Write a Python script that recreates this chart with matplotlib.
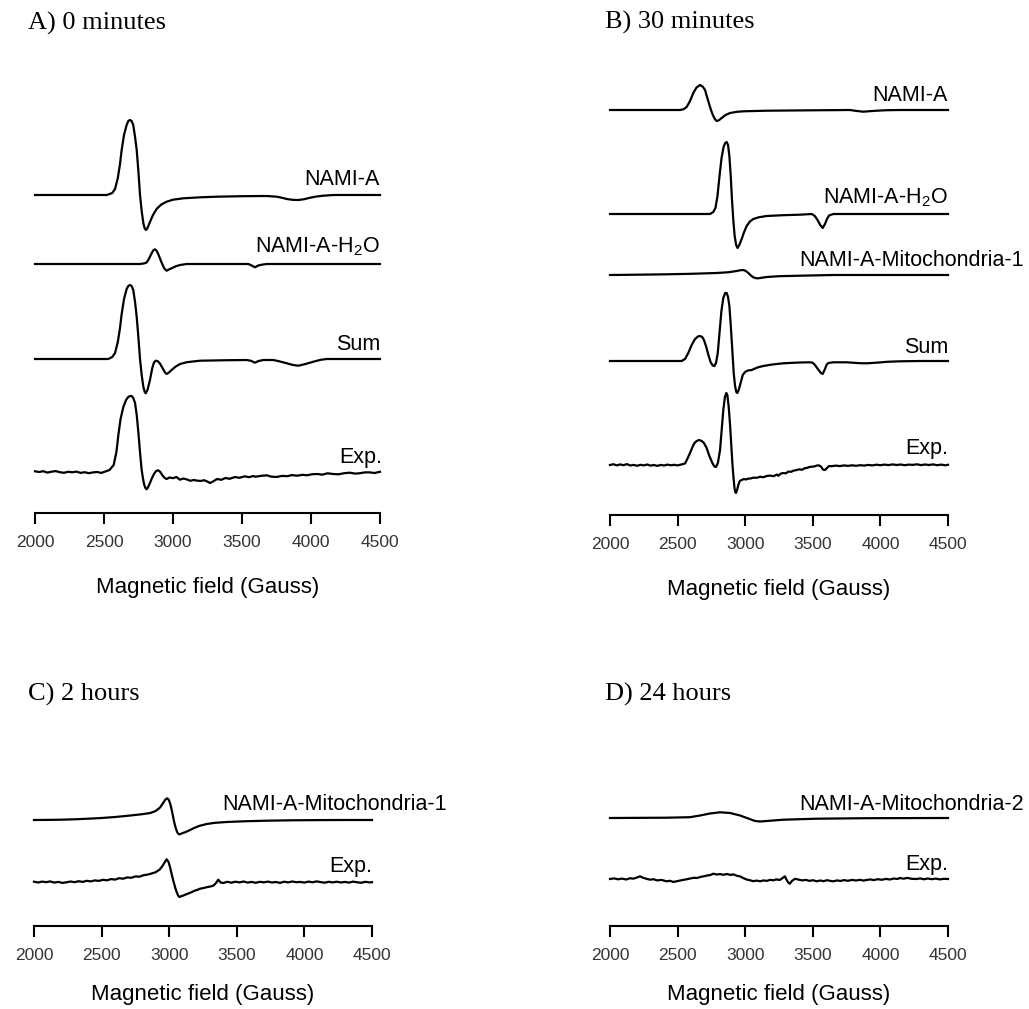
import matplotlib.pyplot as plt

plt.rcParams['font.family'] = ['Liberation Sans', 'DejaVu Sans']
plt.rcParams['mathtext.fontset'] = 'custom'
plt.rcParams['mathtext.rm'] = 'Liberation Sans'

# ---- spectra (field in Gauss, signal in arbitrary units) ----
FIELD_TICKS = [2000, 2500, 3000, 3500, 4000, 4500]

# A) 0 minutes
a_nami_field = [2000, 2400, 2520, 2560, 2580, 2600, 2615, 2628, 2645, 2664, 2676, 2688, 2700, 2712,
                2725, 2737, 2749, 2761, 2773, 2785, 2795, 2805, 2815, 2833, 2855, 2881, 2915, 2954,
                3000, 3075, 3200, 3317, 3500, 3680, 3752, 3790, 3825, 3865, 3909, 3950, 3994, 4040,
                4090, 4163, 4500]
a_nami_signal = [0, 0, 0, 2, 6, 17, 30, 45, 60, 70, 74, 75, 74, 70,
                 58, 45, 24, 0, -16, -28, -33.5, -35, -33, -27, -20, -14, -9.5, -6.7,
                 -4.7, -3.3, -2.3, -1.7, -1.2, -1, -1.7, -2.8, -4, -4.8, -5, -4.2, -2.7, -1.5,
                 -0.7, 0, 0]

a_h2o_field = [2000, 2761, 2790, 2809, 2825, 2845, 2858, 2869, 2880, 2893, 2907, 2922, 2937, 2954,
               2970, 2990, 3020, 3051, 3099, 3546, 3570, 3594, 3618, 3643, 3680, 4500]
a_h2o_signal = [0, 0, 0.6, 1.5, 5, 10.7, 13.8, 14.7, 13.5, 10, 5, 0, -4.5, -6.7,
                -5.5, -4.3, -2.3, -1, 0, 0, -1.5, -3.3, -1.5, -0.7, 0, 0]

a_sum_field = [2000, 2531, 2560, 2580, 2600, 2615, 2628, 2645, 2664, 2676, 2688, 2700, 2712, 2725,
               2737, 2749, 2761, 2773, 2785, 2795, 2802, 2815, 2833, 2850, 2862, 2875, 2890, 2905,
               2924, 2942, 2954, 2968, 2990, 3020, 3051, 3100, 3196, 3400, 3534, 3565, 3594, 3620,
               3655, 3727, 3770, 3825, 3870, 3909, 3960, 4018, 4070, 4114, 4500]
a_sum_signal = [0, 0, 2, 6, 17, 30, 45, 60, 70, 73, 74, 73, 69, 57,
                42, 22, 0, -16, -27.7, -33, -34.3, -31, -21, -9, -3.5, -1.7, -2.2, -4.5,
                -9, -13.5, -15, -13.8, -11, -7.5, -5, -3.2, -1.7, -1.2, -1, -1.8, -3.7, -2,
                -1, -1, -2.3, -4.3, -6, -6.7, -5, -2.7, -0.8, 0, 0]

a_exp_field = [2000, 2030, 2060, 2090, 2120, 2150, 2180, 2210, 2240, 2270, 2300, 2330, 2360, 2390,
               2420, 2450, 2480, 2510, 2540, 2570, 2590, 2605, 2620, 2640, 2660, 2675, 2690, 2700,
               2712, 2725, 2738, 2750, 2762, 2773, 2782, 2790, 2800, 2809, 2820, 2833, 2848, 2862,
               2878, 2893, 2908, 2924, 2940, 2954, 2975, 3000, 3025, 3050, 3075, 3100, 3125, 3150,
               3175, 3200, 3225, 3250, 3268, 3290, 3320, 3350, 3380, 3410, 3450, 3480, 3520, 3550,
               3580, 3600, 3640, 3680, 3710, 3750, 3790, 3830, 3860, 3900, 3940, 3970, 4010, 4050,
               4080, 4120, 4160, 4200, 4240, 4280, 4320, 4350, 4390, 4420, 4460, 4500]
a_exp_signal = [0.7, 0.0, 0.8, -0.6, 0.3, 0.9, -0.2, -0.8, 0.2, -0.3, 0.4, -0.9, -0.2, -1.2,
                -0.4, 0.0, -0.9, 0.5, 2.0, 7.0, 20, 38, 53, 65, 72, 75, 76, 76,
                74, 69, 56, 38, 18, 2, -6, -12, -16, -17.3, -15, -11, -6, -2,
                1, 1.7, 0, -3.5, -6, -7, -5.5, -6.2, -5, -7.7, -6.5, -7.4, -8.8, -8,
                -8.6, -9, -8.2, -9.6, -11, -9.5, -7, -7.8, -6, -6.8, -5, -5.8, -4.3, -5.2,
                -4.1, -4.7, -3.8, -3.3, -4.6, -5, -3.9, -4.2, -3.1, -3.7, -2.8, -3.3, -2.2, -2,
                -2.7, -1.3, -2.0, -2.3, -1.2, -0.7, -1.6, -1.3, -0.4, -0.3, -1.0, 0.2]

# B) 30 minutes
b_nami_field = [2000, 2518, 2545, 2567, 2592, 2616, 2640, 2666, 2685, 2703, 2722, 2740, 2752, 2764,
                2778, 2789, 2805, 2826, 2855, 2888, 2940, 2986, 3159, 3500, 3775, 3820, 3874, 3920,
                3972, 4050, 4145, 4500]
b_nami_signal = [0, 0, 0.8, 3, 9, 17, 22.5, 25, 23.5, 20, 11, 3, -2, -6,
                 -9.5, -11, -10.3, -8, -5, -3, -1.8, -1.3, -0.7, -0.3, 0, -0.9, -1.7, -1.2,
                 -0.7, -0.2, 0, 0]

b_h2o_field = [2000, 2740, 2764, 2780, 2795, 2810, 2825, 2840, 2852, 2863, 2873, 2883, 2893, 2902,
               2912, 2922, 2933, 2944, 2956, 2974, 2992, 3011, 3035, 3060, 3100, 3159, 3280, 3405,
               3492, 3515, 3535, 3555, 3573, 3590, 3605, 3620, 3652, 4500]
b_h2o_signal = [0, 0, 2, 6, 18, 38, 56, 67, 71, 72, 69, 58, 38, 15,
                -6, -22, -31, -34, -31, -25, -18, -12, -7.5, -5, -3.3, -2, -1.2, -0.7,
                0, -2, -6, -11, -14, -10, -5, -1.5, 0, 0]

b_mito_field = [2000, 2200, 2419, 2600, 2789, 2880, 2937, 2965, 2986, 3005, 3023, 3042, 3060, 3080,
                3097, 3125, 3159, 3250, 3405, 3652, 4500]
b_mito_signal = [0, 0.3, 0.7, 1.2, 2, 2.8, 4, 4.8, 5, 4, 2, -0.5, -2.3, -3.2,
                 -3.3, -2.7, -2, -1.2, -0.7, 0, 0]

b_sum_field = [2000, 2530, 2555, 2579, 2604, 2629, 2650, 2666, 2682, 2695, 2712, 2730, 2745, 2760,
               2772, 2784, 2797, 2810, 2824, 2838, 2852, 2863, 2873, 2883, 2893, 2905, 2915, 2925,
               2934, 2942, 2952, 2966, 2982, 2999, 3020, 3048, 3090, 3134, 3200, 3282, 3400, 3480,
               3500, 3516, 3540, 3560, 3573, 3590, 3603, 3615, 3652, 3750, 3850, 3898, 3970, 4050,
               4145, 4300, 4500]
b_sum_signal = [0, 0, 2, 8, 16, 22, 24.5, 25, 24, 21, 14, 5, -1.5, -4.5,
                -5, -2, 8, 28, 50, 63, 68, 68, 64, 55, 36, 10, -12, -25,
                -31, -32, -29, -22, -14, -11, -9.5, -9, -6.5, -5, -3.5, -2.3, -1.5, -1.3,
                -1.8, -4, -8.5, -12, -13, -8, -3.5, -2, -1.3, -1.3, -2.2, -2.3, -1.7, -0.8,
                -0.3, 0, 0]

b_exp_field = [2000, 2025, 2050, 2075, 2100, 2125, 2150, 2175, 2200, 2225, 2250, 2275, 2300, 2325,
               2350, 2375, 2400, 2425, 2450, 2475, 2500, 2530, 2555, 2575, 2592, 2610, 2625, 2641,
               2660, 2678, 2695, 2715, 2735, 2757, 2772, 2784, 2798, 2814, 2826, 2838, 2850, 2860,
               2868, 2878, 2888, 2897, 2905, 2913, 2920, 2926, 2932, 2940, 2949, 2960, 2974, 2990,
               3005, 3023, 3040, 3060, 3085, 3110, 3135, 3159, 3185, 3210, 3235, 3245, 3265, 3282,
               3300, 3320, 3340, 3356, 3375, 3400, 3420, 3440, 3455, 3475, 3500, 3516, 3530, 3545,
               3560, 3575, 3590, 3605, 3620, 3640, 3670, 3700, 3730, 3760, 3790, 3820, 3850, 3880,
               3910, 3940, 3970, 4000, 4030, 4060, 4090, 4120, 4150, 4180, 4210, 4240, 4270, 4300,
               4330, 4360, 4390, 4420, 4450, 4480, 4500]
b_exp_signal = [0, 0.8, -0.4, 0.6, -0.2, 0.9, -0.5, 0.1, -0.8, 0.2, -0.4, 0.5, -0.6, 0,
                -0.9, 0.1, -0.5, 0.4, -0.3, 0.2, -0.4, 0.6, 1.5, 7, 12, 18, 22, 24,
                25, 24, 22, 17, 9, 2, -1.5, -2, 2, 15, 35, 55, 68, 72,
                70, 58, 40, 20, 2, -12, -22, -27, -28, -25, -20, -16, -15, -14,
                -14.5, -13.6, -13.5, -12.7, -12.8, -11.8, -12.2, -11, -10.6, -11.2, -9.5, -10.8, -8.5, -8,
                -8.4, -6.5, -6.8, -5.7, -5.2, -4.3, -4.8, -3.2, -3, -2, -1.6, -1.3, -0.5, -0.4,
                -1.5, -4.5, -5, -3, -1, -1.2, -0.6, -1.1, -0.4, -0.9, -0.3, -0.8, -0.2, -0.6,
                0.1, -0.4, 0.3, -0.2, 0.4, -0.1, 0.6, 0, 0.5, -0.2, 0.4, 0.1, 0.7, -0.1,
                0.5, 0, 0.6, -0.2, 0.4, -0.3, 0.2]

# C) 2 hours
c_mito_field = [2000, 2100, 2200, 2300, 2400, 2500, 2600, 2700, 2800, 2860, 2900, 2932, 2955, 2972,
                2985, 2998, 3010, 3022, 3035, 3048, 3060, 3072, 3085, 3100, 3117, 3150, 3179, 3220,
                3277, 3340, 3425, 3550, 3721, 3900, 4100, 4300, 4500]
c_mito_signal = [0, 0.1, 0.3, 0.7, 1.3, 2.0, 3.0, 4.3, 5.8, 7.0, 9.0, 12.5, 17, 20.5,
                 21.7, 20, 15, 8, -1, -8, -12.5, -14.3, -14, -13, -12.3, -10.3, -8.3, -6,
                 -4, -2.8, -2, -1.3, -0.7, -0.3, -0.1, 0, 0]

c_exp_field = [2000, 2030, 2060, 2090, 2120, 2150, 2180, 2210, 2240, 2270, 2300, 2330, 2360, 2390,
               2420, 2450, 2480, 2510, 2540, 2570, 2600, 2630, 2660, 2690, 2720, 2750, 2780, 2810,
               2840, 2870, 2900, 2930, 2950, 2968, 2981, 2995, 3006, 3018, 3031, 3045, 3055, 3066,
               3075, 3090, 3105, 3120, 3141, 3165, 3190, 3210, 3228, 3255, 3280, 3305, 3326, 3345,
               3363, 3380, 3400, 3430, 3460, 3490, 3520, 3550, 3580, 3610, 3640, 3670, 3700, 3730,
               3760, 3790, 3820, 3850, 3880, 3910, 3940, 3970, 4000, 4030, 4060, 4090, 4120, 4150,
               4180, 4210, 4240, 4270, 4300, 4330, 4360, 4390, 4420, 4450, 4480, 4500]
c_exp_signal = [0.3, -0.5, 0.4, -0.2, 0.6, -0.6, 0.1, -0.9, -0.3, 0.5, -0.2, 0.8, 0.1, 1.2,
                0.6, 1.6, 1.1, 2.2, 1.7, 2.9, 2.4, 3.8, 3.3, 4.6, 4.2, 5.6, 5.3, 6.8,
                7.4, 8.5, 9.8, 12.5, 16, 20, 22.7, 20, 15, 8, 1, -6, -10, -13.5,
                -15, -14.2, -13.5, -12.6, -11.5, -10.2, -8.6, -7.8, -6.7, -6, -5.1, -4.5, -3.7, -1.2,
                2.3, -0.5, -1, 0.2, -0.7, 0.3, -0.4, 0.5, -0.6, 0.1, -0.8, 0.2, -0.3, 0.4,
                -0.5, 0, -0.9, 0.3, -0.4, 0.5, -0.2, 0.1, -0.6, 0.4, -0.3, 0.6, -0.1, -0.7,
                0.2, -0.4, 0.3, -0.5, 0.1, -0.6, 0.4, -0.3, -0.8, 0.2, -0.4, -0.2]

# D) 24 hours
d_mito_field = [2000, 2419, 2592, 2666, 2740, 2814, 2888, 2962, 3023, 3073, 3110, 3159, 3282, 3529,
                3898, 4500]
d_mito_signal = [0, 0.3, 0.8, 2.5, 4.5, 5.7, 5, 2.5, -0.5, -3, -3.5, -3, -1.7, -0.7,
                 -0.2, 0]

d_exp_field = [2000, 2030, 2060, 2090, 2120, 2150, 2172, 2200, 2222, 2245, 2270, 2296, 2320, 2350,
               2380, 2419, 2445, 2468, 2495, 2520, 2545, 2567, 2590, 2620, 2645, 2666, 2690, 2715,
               2740, 2764, 2790, 2814, 2840, 2865, 2890, 2912, 2937, 2962, 2985, 3010, 3036, 3060,
               3085, 3110, 3135, 3160, 3185, 3208, 3230, 3255, 3275, 3294, 3305, 3318, 3331, 3345,
               3368, 3395, 3420, 3450, 3475, 3500, 3529, 3555, 3580, 3605, 3630, 3652, 3680, 3705,
               3730, 3760, 3790, 3820, 3850, 3875, 3898, 3925, 3950, 3980, 4010, 4040, 4070, 4100,
               4125, 4145, 4170, 4200, 4230, 4268, 4295, 4320, 4350, 4380, 4410, 4440, 4470, 4500]
d_exp_signal = [0, 0.6, -0.3, 0.4, -0.5, 0.8, 0.3, 1.5, 2.7, 1.2, 0.2, -0.7, -0.2, -1.4,
                -0.9, -2.3, -1.8, -3, -2.2, -1.5, -0.8, -0.3, 0.4, 1.2, 1.0, 2, 2.6, 3.4,
                3.9, 5.3, 4.5, 4.9, 4.2, 5.0, 4.1, 4.6, 3.3, 2.6, 1.0, -0.5, -1.3, -2.2,
                -1.6, -2.3, -1.4, -1.9, -0.8, -1.3, -0.4, -1.0, 0.8, 2.7, -0.5, -3.5, -4.7, -2,
                0.2, -0.6, -1.4, -0.9, -1.9, -1.2, -2.3, -1.5, -2.2, -1.2, -1.9, -2.3, -1.4, -2,
                -1.1, -1.8, -0.9, -1.5, -0.8, -1.6, -1, -0.4, -1.1, -0.2, -0.8, 0.1, -0.5, 0.5,
                0, 1, 0.3, 1.1, 0.2, 0, 0.6, -0.3, 0.5, -0.2, 0.4, -0.4, 0.2, 0]

# ---- figure laid out in pixel units, 1 signal unit = 1 px ----
W, H = 1029, 1009
fig = plt.figure(figsize=(W / 100, H / 100), dpi=100)


def make_panel(left, right, axis_row, top_row, labelpad=19):
    ax = fig.add_axes([left / W, 1 - axis_row / H, (right - left) / W, (axis_row - top_row) / H])
    ax.patch.set_alpha(0)
    ax.set_xlim(2000, 4500)
    ax.set_ylim(-axis_row, -top_row)
    for side in ['left', 'right', 'top']:
        ax.spines[side].set_visible(False)
    ax.spines['bottom'].set_linewidth(1.5)
    ax.set_yticks([])
    ax.set_xticks(FIELD_TICKS)
    ax.tick_params(axis='x', direction='out', length=8, width=1.5,
                   labelsize=12.5, labelcolor='#333333', pad=8)
    ax.set_xlabel('Magnetic field (Gauss)', fontsize=16, labelpad=labelpad)
    return ax


def trace(ax, field, signal, row, label, lx=4500, ha='right', label_row=None):
    ax.plot(field, [s - row for s in signal], color='black', lw=1.6, clip_on=False)
    ax.text(lx, -(label_row if label_row is not None else row - 9), label,
            ha=ha, va='baseline', fontsize=15.5)


ax_a = make_panel(35, 380, 513, 60)
trace(ax_a, a_nami_field, a_nami_signal, 195, 'NAMI-A', label_row=185)
trace(ax_a, a_h2o_field, a_h2o_signal, 264, r'NAMI-A-H$_{\mathrm{2}}$O', label_row=252)
trace(ax_a, a_sum_field, a_sum_signal, 359, 'Sum', label_row=350)
trace(ax_a, a_exp_field, a_exp_signal, 472, 'Exp.', lx=4515, label_row=463)

ax_b = make_panel(610, 948, 515, 60)
trace(ax_b, b_nami_field, b_nami_signal, 110, 'NAMI-A', label_row=101)
trace(ax_b, b_h2o_field, b_h2o_signal, 214, r'NAMI-A-H$_{\mathrm{2}}$O', label_row=203)
trace(ax_b, b_mito_field, b_mito_signal, 275, 'NAMI-A-Mitochondria-1', lx=3400, ha='left', label_row=266)
trace(ax_b, b_sum_field, b_sum_signal, 361, 'Sum', label_row=353)
trace(ax_b, b_exp_field, b_exp_signal, 465, 'Exp.', label_row=454)

ax_c = make_panel(34, 372, 926, 740, labelpad=15)
trace(ax_c, c_mito_field, c_mito_signal, 820, 'NAMI-A-Mitochondria-1', lx=3395, ha='left', label_row=810)
trace(ax_c, c_exp_field, c_exp_signal, 882, 'Exp.', label_row=872)

ax_d = make_panel(610, 948, 926, 740, labelpad=15)
trace(ax_d, d_mito_field, d_mito_signal, 818, 'NAMI-A-Mitochondria-2', lx=3400, ha='left', label_row=810)
trace(ax_d, d_exp_field, d_exp_signal, 879, 'Exp.', label_row=870)

# panel titles
for x, y, title in [(28, 30, 'A) 0 minutes'), (605, 29, 'B) 30 minutes'),
                    (28, 701, 'C) 2 hours'), (605, 701, 'D) 24 hours')]:
    fig.text(x / W, 1 - y / H, title, family='Liberation Serif', fontsize=19, va='baseline')

fig.savefig('out.png', dpi=100)
